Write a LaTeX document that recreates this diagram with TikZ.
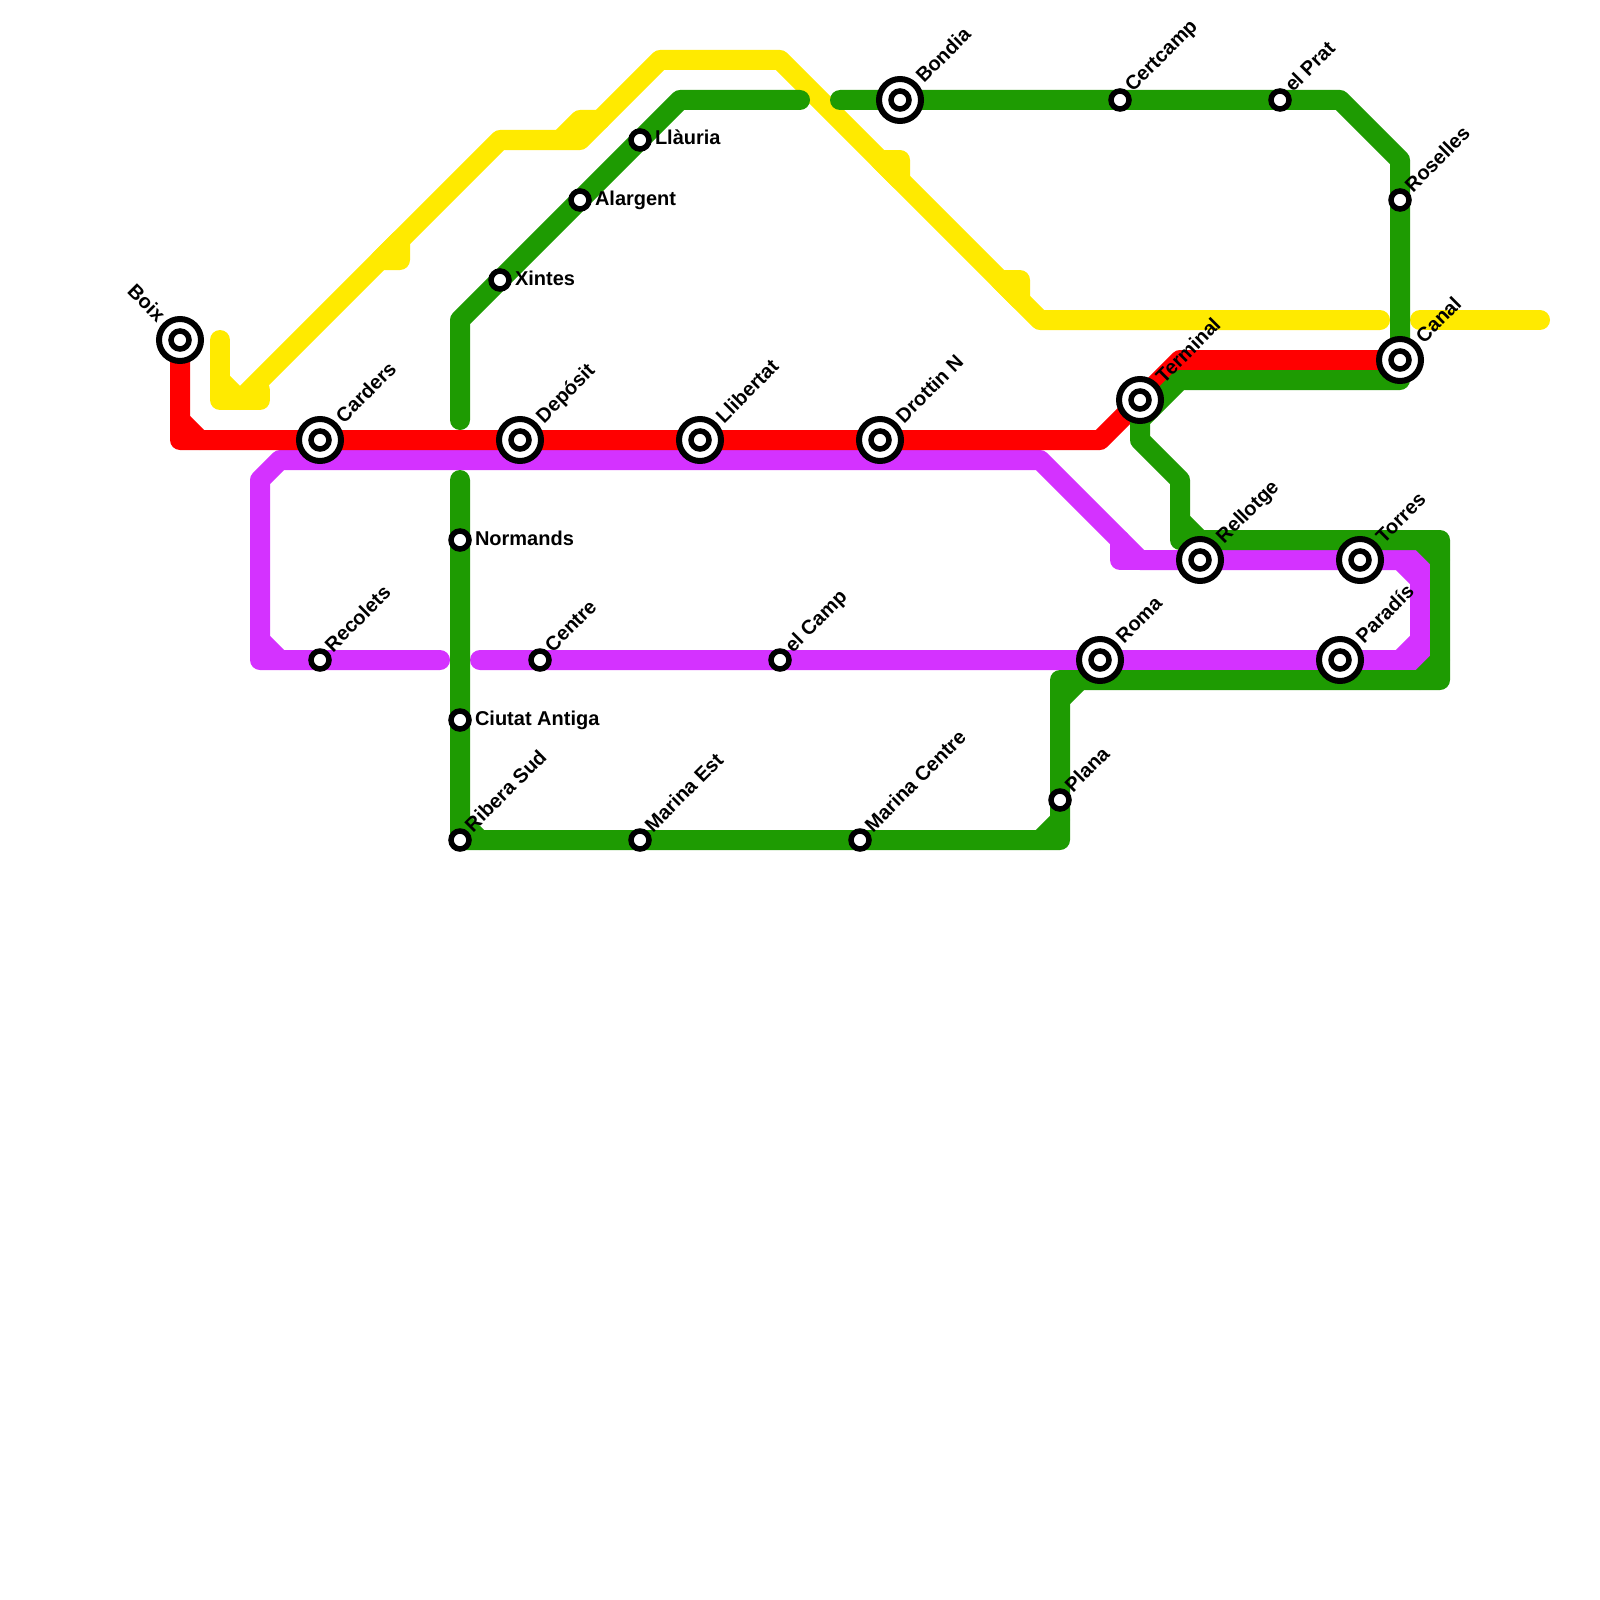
\documentclass[tikz,border=0pt]{standalone}
\usepackage{fontspec}
\setmainfont{Liberation Sans}
\pgfdeclarelayer{lines}
\pgfsetlayers{lines,main}
\definecolor{lred}{RGB}{255,0,0}
\definecolor{lyellow}{RGB}{255,234,0}
\definecolor{lgreen}{RGB}{30,155,2}
\definecolor{lpurple}{RGB}{212,50,255}
\tikzset{
  metro/.style={line width=20pt,line cap=round,line join=round},
  redline/.style={metro,draw=lred},
  yellowline/.style={metro,draw=lyellow},
  greenline/.style={metro,draw=lgreen},
  purpleline/.style={metro,draw=lpurple},
  ixout/.style={circle,draw=black,fill=white,line width=6pt,minimum size=42pt,inner sep=0pt,outer sep=0pt},
  stn/.style={circle,draw=black,fill=white,line width=5.5pt,minimum size=18pt,inner sep=0pt,outer sep=0pt},
  lbl/.style={text=black,inner sep=0pt,outer sep=0pt,font=\fontsize{20}{24}\selectfont\bfseries}
}
\newcommand\ixst[2]{\node[ixout] (#1o) at (#2) {}; \node[stn] (#1) at (#2) {};}
\newcommand\smst[2]{\node[stn] (#1) at (#2) {};}
\newcommand\lab[4]{\node[lbl,anchor=base west,rotate=45] (#1l) at ([shift={(#2,#3)}]#1.center) {#4};}
\newcommand\hlab[2]{\node[lbl,anchor=base west] (#1l) at ([shift={(15,5)}]#1.center) {#2};}
\begin{document}
\begin{tikzpicture}[x=1pt,y=-1pt]
\useasboundingbox (0,0) rectangle (1600,1600);
% stations
\ixst{boix}{180,340}
\ixst{carders}{320,440}
\ixst{deposit}{520,440}
\ixst{llibertat}{700,440}
\ixst{drottin}{880,440}
\ixst{terminal}{1140,400}
\ixst{canal}{1400,360}
\ixst{bondia}{900,100}
\ixst{rellotge}{1200,560}
\ixst{torres}{1360,560}
\ixst{paradis}{1340,660}
\ixst{roma}{1100,660}
\smst{certcamp}{1120,100}
\smst{elprat}{1280,100}
\smst{roselles}{1400,200}
\smst{lauria}{640,140}
\smst{alargent}{580,200}
\smst{xintes}{500,280}
\smst{normands}{460,540}
\smst{ciutat}{460,720}
\smst{ribera}{460,840}
\smst{marinaest}{640,840}
\smst{marinacentre}{860,840}
\smst{plana}{1060,800}
\smst{recolets}{320,660}
\smst{centre}{540,660}
\smst{elcamp}{780,660}
% free ends
\coordinate (ya) at (220,340);
\coordinate (yb) at (1380,320);
\coordinate (yc) at (1420,320);
\coordinate (yd) at (1540,320);
\coordinate (ga) at (460,420);
\coordinate (gb) at (800,100);
\coordinate (gc) at (840,100);
\coordinate (gd) at (460,480);
\coordinate (pa) at (440,660);
\coordinate (pb) at (480,660);
\begin{pgfonlayer}{lines}
% yellow
\draw[yellowline] (ya) -- (220,400) -- (260,400) -- (260,390);
\draw[yellowline] (220,380) -- (240,400) -- (500,140) -- (580,140) -- (660,60) -- (780,60) -- (1040,320) -- (yb);
\draw[yellowline] (yc) -- (yd);
\draw[yellowline,fill=lyellow] (380,260) -- (400,260) -- (400,240) -- cycle;
\draw[yellowline,fill=lyellow] (560,140) -- (580,120) -- (600,120) -- cycle;
\draw[yellowline,fill=lyellow] (880,160) -- (900,160) -- (900,180) -- cycle;
\draw[yellowline,fill=lyellow] (1000,280) -- (1020,280) -- (1020,300) -- cycle;
% purple
\draw[purpleline] (pa) -- (recolets.center) -- (260,660) -- (260,480) -- (280,460) -- (1040,460) -- (1140,560) -- (rellotge.center) -- (torres.center) -- (1400,560) -- (1420,580) -- (1420,640) -- (1400,660) -- (paradis.center) -- (roma.center) -- (elcamp.center) -- (centre.center) -- (pb);
\draw[purpleline] (260,640) -- (280,660);
\draw[purpleline] (1120,540) -- (1120,560) -- (1140,560);
\draw[purpleline] (1400,560) -- (1420,560) -- (1420,580);
\draw[purpleline] (1400,660) -- (1420,660) -- (1420,640);
% red
\draw[redline] (boix.center) -- (180,440) -- (carders.center) -- (deposit.center) -- (llibertat.center) -- (drottin.center) -- (1100,440) -- (terminal.center) -- (1180,360) -- (canal.center);
\draw[redline] (180,420) -- (200,440);
% green
\draw[greenline] (ga) -- (460,320) -- (xintes.center) -- (alargent.center) -- (lauria.center) -- (680,100) -- (gb);
\draw[greenline] (gc) -- (bondia.center) -- (certcamp.center) -- (elprat.center) -- (1340,100) -- (1400,160) -- (roselles.center) -- (canal.center) -- (1400,380) -- (1180,380) -- (1140,420) -- (1140,440) -- (1180,480) -- (1180,540) -- (1440,540) -- (1440,680) -- (1060,680) -- (plana.center) -- (1060,840) -- (marinacentre.center) -- (marinaest.center) -- (ribera.center) -- (ciutat.center) -- (normands.center) -- (gd);
\draw[greenline] (1180,520) -- (1200,540);
\draw[greenline] (1420,540) -- (1440,560);
\draw[greenline] (1420,680) -- (1440,660);
\draw[greenline] (1060,700) -- (1080,680);
\draw[greenline] (1060,820) -- (1040,840);
\draw[greenline] (460,820) -- (480,840);
\end{pgfonlayer}
% labels
\node[lbl,anchor=base east,rotate=-45] (boixl) at ([shift={(-23,-17)}]boix.center) {Boix};
\lab{carders}{24}{-16}{Carders}
\lab{deposit}{24}{-16}{Depósit}
\lab{llibertat}{24}{-16}{Llibertat}
\lab{drottin}{24}{-16}{Drottin N}
\lab{terminal}{24}{-16}{Terminal}
\lab{canal}{24}{-16}{Canal}
\lab{bondia}{24}{-16}{Bondia}
\lab{rellotge}{24}{-16}{Rellotge}
\lab{torres}{24}{-16}{Torres}
\lab{paradis}{24}{-16}{Paradís}
\lab{roma}{24}{-16}{Roma}
\lab{certcamp}{13}{-7}{Certcamp}
\lab{elprat}{13}{-7}{el Prat}
\lab{roselles}{13}{-7}{Roselles}
\lab{ribera}{13}{-7}{Ribera Sud}
\lab{marinaest}{13}{-7}{Marina Est}
\lab{marinacentre}{13}{-7}{Marina Centre}
\lab{plana}{13}{-7}{Plana}
\lab{recolets}{13}{-7}{Recolets}
\lab{centre}{13}{-7}{Centre}
\lab{elcamp}{13}{-7}{el Camp}
\hlab{lauria}{Llàuria}
\hlab{alargent}{Alargent}
\hlab{xintes}{Xintes}
\hlab{normands}{Normands}
\hlab{ciutat}{Ciutat Antiga}
\end{tikzpicture}
\end{document}
